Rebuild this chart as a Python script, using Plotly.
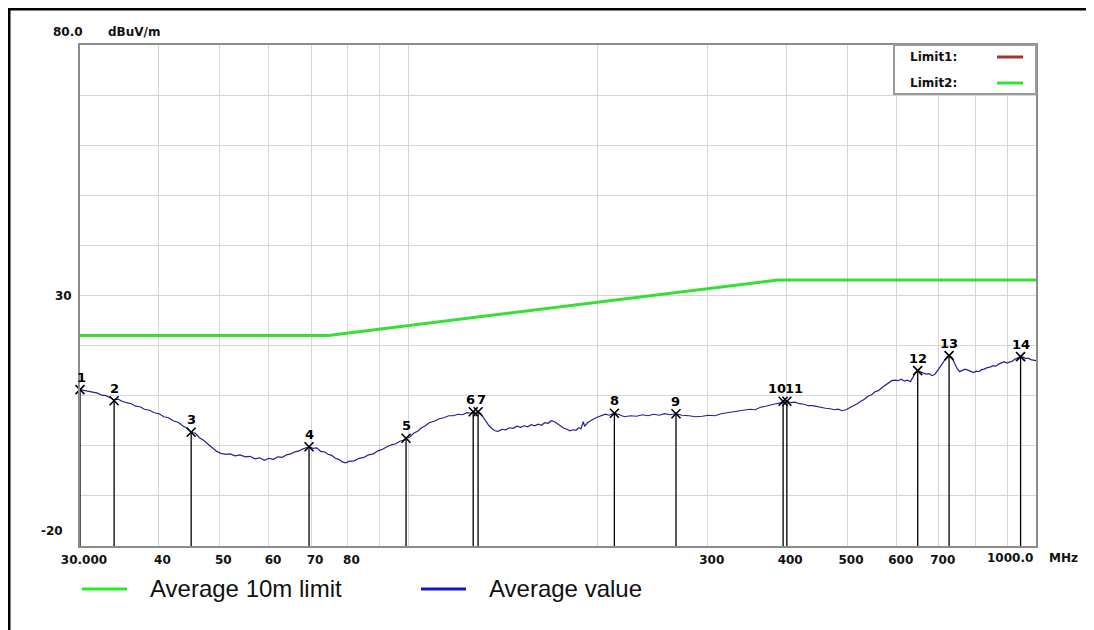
import math
import plotly.graph_objects as go

# ---------------- data ----------------
avg_freq = [30.0, 30.5, 31.0, 31.5, 32.0, 32.5, 33.0, 33.5, 34.0, 34.5, 35.0, 35.6, 36.2, 36.8, 37.4,
            38.0, 38.7, 39.4, 40.1, 40.8, 41.5, 42.2, 43.0, 43.8, 44.5, 45.1, 45.8, 46.5, 47.2, 48.0,
            48.8, 49.5, 50.3, 51.2, 52.0, 53.0, 54.0, 55.0, 56.0, 57.0, 58.0, 59.0, 60.0, 61.0, 62.0,
            63.0, 64.0, 65.0, 66.0, 67.0, 68.0, 69.5, 70.5, 71.5, 72.5, 73.5, 74.5, 75.5, 76.5, 77.5,
            78.5, 79.5, 80.5, 82.0, 83.5, 85.0, 86.5, 88.0, 89.5, 91.0, 92.5, 94.0, 95.5, 97.0, 98.2,
            99.2, 100.5, 102.0, 103.5, 105.0, 106.5, 108.0, 110.0, 112.0, 114.0, 116.0, 118.0, 120.0,
            122.0, 124.0, 126.0, 127.0, 128.2, 129.2, 130.5, 131.8, 133.0, 134.5, 136.0, 137.5, 139.0,
            141.0, 143.0, 145.0, 147.0, 149.0, 151.0, 153.0, 155.0, 157.0, 159.0, 161.0, 163.0, 165.0,
            167.0, 169.0, 171.0, 173.0, 175.0, 177.0, 179.0, 181.0, 183.0, 185.0, 187.0, 188.5, 190.0,
            191.0, 193.0, 195.0, 197.0, 200.0, 203.0, 206.0, 209.0, 213.0, 217.0, 221.0, 226.0, 231.0,
            236.0, 241.0, 246.0, 251.0, 256.0, 261.0, 267.0, 273.0, 280.0, 287.0, 294.0, 301.0, 308.0,
            315.0, 322.0, 329.0, 336.0, 343.0, 350.0, 357.0, 364.0, 371.0, 378.0, 385.0, 391.0, 395.5,
            401.0, 407.0, 413.0, 420.0, 427.0, 434.0, 441.0, 448.0, 455.0, 462.0, 470.0, 477.0, 484.0,
            491.0, 498.0, 505.0, 512.0, 519.0, 526.0, 533.0, 540.0, 547.0, 554.0, 561.0, 568.0, 575.0,
            582.0, 589.0, 596.0, 603.0, 610.0, 617.0, 624.0, 631.0, 637.0, 642.0, 648.0, 655.0, 662.0,
            669.0, 676.0, 683.0, 690.0, 697.0, 704.0, 711.0, 718.0, 727.0, 735.0, 742.0, 749.0, 756.0,
            763.0, 771.0, 779.0, 787.0, 795.0, 803.0, 811.0, 819.0, 827.0, 836.0, 845.0, 854.0, 863.0,
            872.0, 881.0, 890.0, 899.0, 908.0, 917.0, 926.0, 935.0, 945.0, 954.0, 963.0, 972.0, 981.0,
            990.0, 1000.0]
avg_level = [11.2, 11.0, 10.9, 10.6, 10.5, 10.1, 10.0, 9.6, 9.2, 9.3, 8.9, 8.6, 8.4, 7.9, 7.8,
             7.3, 7.1, 6.6, 6.4, 5.8, 5.6, 5.0, 4.7, 3.9, 3.5, 2.7, 2.5, 1.6, 1.1, 0.3,
             -0.4, -1.1, -1.5, -1.7, -1.6, -2.0, -1.8, -2.2, -2.1, -2.6, -2.4, -2.9, -2.5, -2.7, -2.2,
             -2.3, -1.8, -1.6, -1.2, -1.0, -0.6, -0.2, -0.5, -0.4, -1.1, -1.2, -1.7, -1.9, -2.5, -2.7,
             -3.2, -3.4, -3.1, -3.0, -2.5, -2.3, -1.8, -1.6, -1.0, -0.7, -0.2, 0.2, 0.4, 0.9, 1.1,
             1.5, 1.7, 2.5, 2.9, 3.6, 4.0, 4.6, 4.9, 5.4, 5.6, 6.0, 6.0, 6.3,
             6.2, 6.6, 6.5, 6.8, 6.7, 6.9, 6.4, 5.6, 4.9, 4.0, 3.4, 3.0, 2.9,
             3.3, 3.2, 3.6, 3.5, 3.9, 3.7, 4.0, 3.8, 4.2, 4.0, 4.3, 4.1, 4.6,
             4.5, 5.0, 4.8, 4.4, 4.0, 3.5, 3.3, 3.0, 3.2, 3.1, 3.6, 3.4, 4.8,
             3.9, 4.6, 5.0, 5.3, 5.7, 6.0, 6.3, 6.1, 6.5, 6.2, 5.8, 6.0, 5.9,
             6.2, 6.0, 6.3, 6.1, 6.4, 6.2, 6.4, 6.1, 6.0, 5.8, 5.9, 6.1, 6.0,
             6.4, 6.6, 6.8, 7.0, 7.1, 7.3, 7.2, 7.7, 7.9, 8.2, 8.4, 8.5, 8.9,
             8.9, 8.6, 8.7, 8.4, 8.3, 8.0, 8.0, 7.8, 7.7, 7.5, 7.4, 7.2, 7.3,
             7.0, 7.2, 7.6, 7.9, 8.4, 8.9, 9.3, 9.9, 10.2, 10.8, 11.0, 11.6, 12.1,
             12.5, 13.0, 13.1, 13.0, 13.3, 12.9, 13.1, 12.8, 13.7, 14.6, 15.0, 14.7, 14.5,
             14.3, 14.4, 14.0, 14.3, 15.0, 15.8, 16.8, 17.4, 18.0, 17.6, 16.5, 15.4, 14.8,
             15.0, 15.3, 15.1, 14.8, 14.6, 14.9, 14.8, 15.2, 15.3, 15.6, 15.7, 16.0, 15.9,
             16.3, 16.6, 16.8, 16.5, 16.7, 16.9, 17.3, 17.5, 17.8, 17.7, 17.4, 17.5, 17.2,
             17.1, 17.0]

limit_freq = [30.0, 74.6, 388.0, 1000.0]
limit_level = [22.0, 22.0, 33.1, 33.1]

marker_ids = ["1", "2", "3", "4", "5", "6", "7", "8", "9", "10", "11", "12", "13", "14"]
marker_freq = [30.0, 34.0, 45.1, 69.5, 99.2, 126.9, 129.2, 213.0, 267.0, 395.5, 401.0, 648.0, 727.0, 945.0]
marker_level = [11.2, 9.0, 2.7, -0.2, 1.5, 6.8, 6.8, 6.5, 6.4, 8.9, 8.9, 15.0, 18.0, 17.8]
marker_label_shift = [1, 0, 0, 0, 0, -3, 3, 0, 0, -6, 7, 0, 0, 0]   # px nudges so close labels do not collide

x_tick_vals = [30, 40, 50, 60, 70, 80, 300, 400, 500, 600, 700, 1000]
x_tick_text = ["30.000", "40", "50", "60", "70", "80", "300", "400", "500", "600", "700", ""]
x_last_label = "1000.0"
x_grid_vals = [30, 40, 50, 60, 70, 80, 90, 100, 200, 300, 400, 500, 600, 700, 800, 900, 1000]
y_min, y_max = -20, 80

# ---------------- layout geometry (page pixels; page body has an 8px margin) ----------------
OFF = 8
W, H = 1094 - OFF, 630 - OFF
L, R, T, B = 80, 1036, 45, 546          # plot area in page pixels


def px(x):
    return (x - L) / (R - L)


def py(y):
    return (B - y) / (B - T)


FONT_B = "DejaVu Sans, Verdana, sans-serif"
bold = dict(family=FONT_B, size=12, color="#111111", weight="bold")

fig = go.Figure()

fig.add_trace(go.Scatter(x=limit_freq, y=limit_level, mode="lines",
                         line=dict(color="#33e033", width=3), name="Average 10m limit",
                         showlegend=False, hoverinfo="skip"))

stem_x, stem_y = [], []
for f, v in zip(marker_freq, marker_level):
    stem_x += [f, f, None]
    stem_y += [v, y_min, None]
fig.add_trace(go.Scatter(x=stem_x, y=stem_y, mode="lines",
                         line=dict(color="#000000", width=1.3), showlegend=False, hoverinfo="skip"))

fig.add_trace(go.Scatter(x=avg_freq, y=avg_level, mode="lines",
                         line=dict(color="#22229a", width=1.2), name="Average value",
                         showlegend=False))

fig.add_trace(go.Scatter(x=marker_freq, y=marker_level, mode="markers", cliponaxis=False,
                         marker=dict(symbol="x-thin", size=9, color="#000000",
                                     line=dict(color="#000000", width=1.6)),
                         showlegend=False, hoverinfo="skip"))

grid_c = "#d6d6d6"
fig.update_xaxes(type="log", range=[math.log10(30), math.log10(1000)],
                 tickvals=x_tick_vals, ticktext=x_tick_text, tickfont=bold,
                 ticks="", ticklabelshift=4, ticklabelstandoff=2,
                 showgrid=True, gridcolor=grid_c, gridwidth=1,
                 minor=dict(tickvals=x_grid_vals, showgrid=True, gridcolor=grid_c, gridwidth=1, ticks=""),
                 showline=True, linecolor="#8c8c8c", linewidth=2, mirror=True, zeroline=False)

y_tick_vals = list(range(-20, 81, 10))
y_tick_text = ["30" if v == 30 else "" for v in y_tick_vals]
fig.update_yaxes(range=[y_min, y_max], tickvals=y_tick_vals, ticktext=y_tick_text, tickfont=bold,
                 ticks="", ticklabelstandoff=4,
                 showgrid=True, gridcolor=grid_c, gridwidth=1,
                 showline=True, linecolor="#8c8c8c", linewidth=2, mirror=True, zeroline=False)

ann = []
# marker number labels (at the data points)
for lab, f, v, sh in zip(marker_ids, marker_freq, marker_level, marker_label_shift):
    ann.append(dict(x=math.log10(f), y=v, xref="x", yref="y", text=lab, showarrow=False,
                    font=dict(family=FONT_B, size=13, color="#000000", weight="bold"),
                    xanchor="center", yanchor="bottom", yshift=3, xshift=sh))

ann.append(dict(x=px(68), y=py(32), xref="paper", yref="paper", text="80.0", showarrow=False,
                font=bold, xanchor="center", yanchor="middle"))
ann.append(dict(x=px(134), y=py(32), xref="paper", yref="paper", text="dBuV/m", showarrow=False,
                font=bold, xanchor="center", yanchor="middle"))
ann.append(dict(x=px(65), y=py(531), xref="paper", yref="paper", text="-20", showarrow=False,
                font=bold, xanchor="right", yanchor="middle"))
ann.append(dict(x=px(1010), y=py(558), xref="paper", yref="paper", text=x_last_label, showarrow=False,
                font=bold, xanchor="center", yanchor="middle"))
ann.append(dict(x=px(1063), y=py(558), xref="paper", yref="paper", text="MHz", showarrow=False,
                font=bold, xanchor="center", yanchor="middle"))

shapes = []
shapes.append(dict(type="rect", xref="paper", yref="paper", x0=px(894), x1=px(1036), y0=py(94), y1=py(45),
                   fillcolor="#ffffff", line=dict(color="#9a9a9a", width=2), layer="above"))
shapes.append(dict(type="line", xref="paper", yref="paper", x0=px(997), x1=px(1023), y0=py(57), y1=py(57),
                   line=dict(color="#a83232", width=3), layer="above"))
shapes.append(dict(type="line", xref="paper", yref="paper", x0=px(997), x1=px(1023), y0=py(83), y1=py(83),
                   line=dict(color="#33e033", width=3), layer="above"))
ann.append(dict(x=px(908), y=py(57), xref="paper", yref="paper", text="Limit1:", showarrow=False,
                font=bold, xanchor="left", yanchor="middle"))
ann.append(dict(x=px(908), y=py(83), xref="paper", yref="paper", text="Limit2:", showarrow=False,
                font=bold, xanchor="left", yanchor="middle"))

shapes.append(dict(type="line", xref="paper", yref="paper", x0=px(82), x1=px(127), y0=py(589), y1=py(589),
                   line=dict(color="#22ee22", width=3)))
shapes.append(dict(type="line", xref="paper", yref="paper", x0=px(421), x1=px(466), y0=py(589), y1=py(589),
                   line=dict(color="#1515cc", width=3)))
leg_font = dict(family="Liberation Sans, Arial", size=24, color="#111111")
ann.append(dict(x=px(148), y=py(588), xref="paper", yref="paper", text="Average 10m limit", showarrow=False,
                font=leg_font, xanchor="left", yanchor="middle"))
ann.append(dict(x=px(487), y=py(588), xref="paper", yref="paper", text="Average value", showarrow=False,
                font=leg_font, xanchor="left", yanchor="middle"))

shapes.append(dict(type="line", xref="paper", yref="paper", x0=px(8), x1=px(1092), y0=py(5), y1=py(5),
                   line=dict(color="#c8c8c8", width=1)))
shapes.append(dict(type="line", xref="paper", yref="paper", x0=px(8), x1=px(1092), y0=py(9), y1=py(9),
                   line=dict(color="#000000", width=3)))
shapes.append(dict(type="line", xref="paper", yref="paper", x0=px(9), x1=px(9), y0=py(8), y1=py(640),
                   line=dict(color="#000000", width=3)))
shapes.append(dict(type="line", xref="paper", yref="paper", x0=px(1090), x1=px(1090), y0=py(8), y1=py(640),
                   line=dict(color="#000000", width=3)))

fig.update_layout(width=W, height=H,
                  margin=dict(l=L - OFF, r=(W + OFF) - R, t=T - OFF, b=(H + OFF) - B),
                  paper_bgcolor="#ffffff", plot_bgcolor="#ffffff",
                  showlegend=False, annotations=ann, shapes=shapes)

fig.write_html("out.html")
